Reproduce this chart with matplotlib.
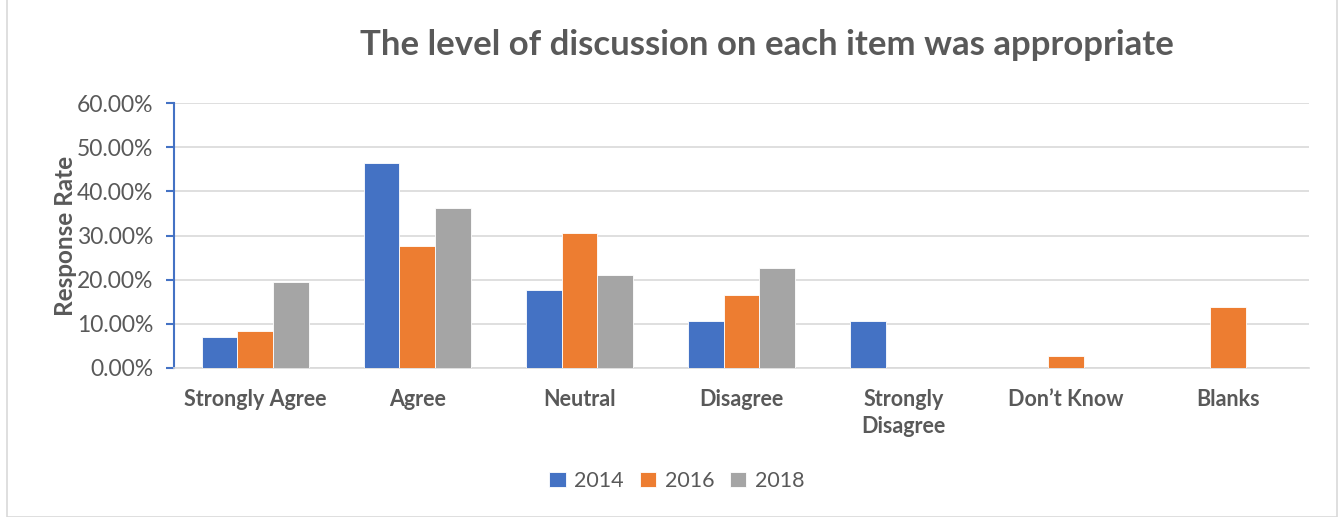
import numpy as np
import matplotlib
matplotlib.use("Agg")
import matplotlib.pyplot as plt
from matplotlib.ticker import PercentFormatter
from matplotlib.patches import Rectangle

plt.rcParams['font.family'] = ['Lato', 'DejaVu Sans']

categories = ['Strongly Agree', 'Agree', 'Neutral', 'Disagree',
              'Strongly\nDisagree', 'Don\u2019t Know', 'Blanks']
years = ['2014', '2016', '2018']
vals_2014 = [7.1, 46.4, 17.7, 10.7, 10.7, 0.0, 0.0]
vals_2016 = [8.3, 27.7, 30.5, 16.6, 0.0, 2.7, 13.8]
vals_2018 = [19.5, 36.3, 21.1, 22.6, 0.0, 0.0, 0.0]
series = [vals_2014, vals_2016, vals_2018]
colors = ['#4472C4', '#ED7D31', '#A5A5A5']

text_col = '#595959'

fig = plt.figure(figsize=(13.4, 5.17), dpi=100)
ax = fig.add_axes([174 / 1340, 1 - 368 / 517, (1309 - 174) / 1340, (368 - 103) / 517])

x = np.arange(len(categories))
w = 0.22
for i, (yr, vals) in enumerate(zip(years, series)):
    ax.bar(x + (i - 1) * w, vals, w, color=colors[i], label=yr,
           edgecolor='white', linewidth=0.6, zorder=3)

ax.set_xlim(-0.5, len(categories) - 0.5)
ax.set_ylim(0, 60)
ax.set_yticks(np.arange(0, 61, 10))
ax.yaxis.set_major_formatter(PercentFormatter(decimals=2))
ax.grid(axis='y', color='#D9D9D9', linewidth=1.2, zorder=0)

for s in ['top', 'right']:
    ax.spines[s].set_visible(False)
ax.spines['bottom'].set_color('#D9D9D9')
ax.spines['bottom'].set_linewidth(1.2)
ax.spines['left'].set_color('#4472C4')
ax.spines['left'].set_linewidth(1.5)

ax.tick_params(axis='y', colors='#4472C4', length=6, width=1.5, labelcolor=text_col,
               labelsize=16.5, pad=9)
ax.tick_params(axis='x', length=0, labelcolor=text_col, labelsize=15.5, pad=15)
ax.set_xticks(x)
ax.set_xticklabels(categories, fontweight='bold', va='top', linespacing=1.35)

ax.set_ylabel('Response Rate', fontsize=17.5, fontweight='bold', color=text_col, labelpad=0)

fig.text(767 / 1340, 1 - 45 / 517, 'The level of discussion on each item was appropriate',
         ha='center', va='center', fontsize=25, fontweight='bold', color=text_col)

leg = fig.legend(loc='center', bbox_to_anchor=(677 / 1340, 1 - 481 / 517), ncol=3,
                 frameon=False, fontsize=15.5, handlelength=0.75, handleheight=0.75,
                 columnspacing=0.75, handletextpad=0.4)
for t in leg.get_texts():
    t.set_color(text_col)

fig.patches.append(Rectangle((7 / 1340, 0), (1337 - 7) / 1340, 1.2, transform=fig.transFigure,
                             fill=False, edgecolor='#D9D9D9', linewidth=1.2))

fig.savefig('out.png', dpi=100)
